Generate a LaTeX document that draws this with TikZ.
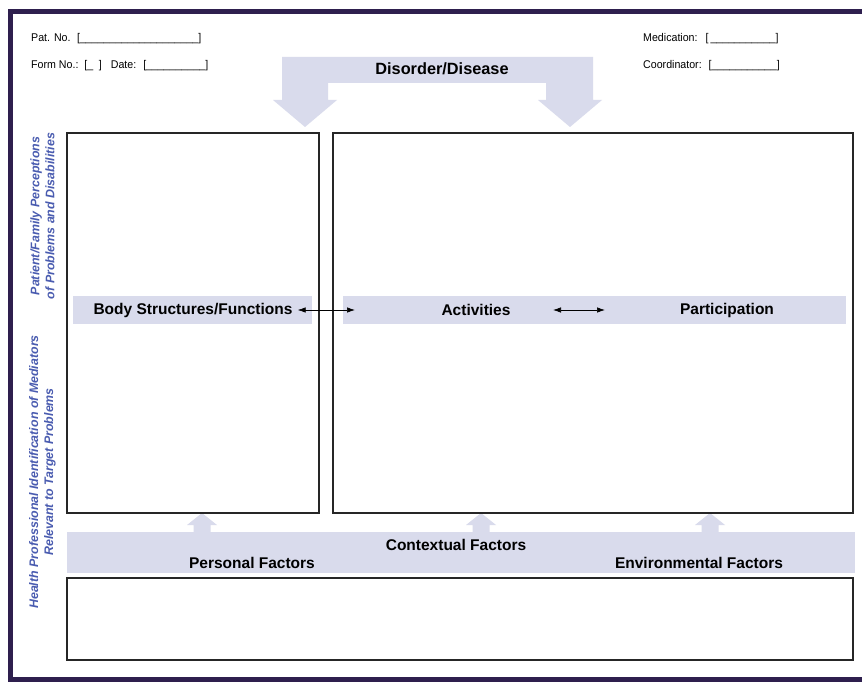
\documentclass[tikz,border=0pt]{standalone}
\usepackage{fontspec}
\setmainfont{Liberation Sans}
\newfontfamily\hdrfont[FakeStretch=0.95]{Liberation Sans}
\usetikzlibrary{arrows.meta}
\definecolor{framecol}{HTML}{2E1F4E}
\definecolor{lav}{HTML}{D9DBEC}
\definecolor{sideblue}{HTML}{4A5CB0}
\begin{document}
\begin{tikzpicture}[x=1pt,y=-1pt,
  box/.style={draw=black!85, line width=1.1pt},
  lbl/.style={font=\fontsize{15.5}{18}\selectfont\bfseries, inner sep=0pt},
  hdr/.style={font=\hdrfont\fontsize{11.2}{13}\selectfont, anchor=west, inner sep=0pt},
  side/.style={font=\fontsize{12.4}{15}\selectfont\bfseries\itshape, text=sideblue, rotate=90, align=center, inner sep=0pt},
  dbl/.style={{Latex[length=8pt,width=5.5pt]}-{Latex[length=8pt,width=5.5pt]}, line width=0.7pt}
]
\useasboundingbox (0,0) rectangle (862,682);
\fill[white] (0,0) rectangle (862,682);
% outer frame (cut at right edge)
\draw[framecol, line width=5pt, line join=miter] (864,12) -- (10,12) -- (10,679.5) -- (864,679.5);

% header
\node[hdr] (patno) at (31,39) {Pat. No.\hspace{6.5pt}[\_\_\_\_\_\_\_\_\_\_\_\_\_\_\_\_\_\_\_\_]};
\node[hdr] (formno) at (31,66) {Form No.:\hspace{6pt}[\_\hspace{5.5pt}]\hspace{9pt}Date:\hspace{7pt}[\_\_\_\_\_\_\_\_\_\_]};
\node[hdr] (medic) at (643,39) {Medication:\hspace{8pt}[\hspace{2pt}\_\_\_\_\_\_\_\_\_\_\_]};
\node[hdr] (coord) at (643,66) {Coordinator:\hspace{7pt}[\_\_\_\_\_\_\_\_\_\_\_]};

% Disorder/Disease block arrow
\fill[lav] (282,57) -- (593,57) -- (593,100) -- (602,100) -- (570,127) -- (538,100) -- (546,100)
  -- (546,83) -- (328,83) -- (328,100) -- (337,100) -- (305,127) -- (273,100) -- (282,100) -- cycle;
\node[lbl, font=\fontsize{16.3}{18}\selectfont\bfseries] (disorder) at (442,69) {Disorder/Disease};

% side texts
\node[side] (sidetop) at (42.5,216) {Patient/Family Perceptions\\of Problems and Disabilities};
\node[side] (sidebot) at (42.5,472) {Health Professional Identification of Mediators\\Relevant to Target Problems};

% bands
\fill[lav] (73,296) rectangle (312,324);
\fill[lav] (343,296) rectangle (846,324);
\fill[lav] (67,532) rectangle (855,573);

% up arrows
\foreach \cx in {202,481,710} {
  \fill[lav] (\cx-8.5,533) -- (\cx-8.5,525) -- (\cx-15,525) -- (\cx,513) -- (\cx+15,525) -- (\cx+8.5,525) -- (\cx+8.5,533) -- cycle;
}

% boxes
\draw[box] (67,133) rectangle (319,513);
\draw[box] (333,133) rectangle (853,513);
\draw[box] (67,578) rectangle (853,660);

% labels
\node[lbl] (body) at (193,310) {Body Structures/Functions};
\node[lbl] (act) at (476,310) {Activities};
\node[lbl] (part) at (727,310) {Participation};
\node[lbl] (context) at (456,545) {Contextual Factors};
\node[lbl] (personal) at (252,563) {Personal Factors};
\node[lbl] (environ) at (699,563) {Environmental Factors};

% connectors
\coordinate (bsR) at (355,310);
\coordinate (apL) at (553,310);
\coordinate (apR) at (605,310);
\draw[dbl] ([xshift=5pt]body.east) -- (bsR);
\draw[dbl] (apL) -- (apR);
\end{tikzpicture}
\end{document}
